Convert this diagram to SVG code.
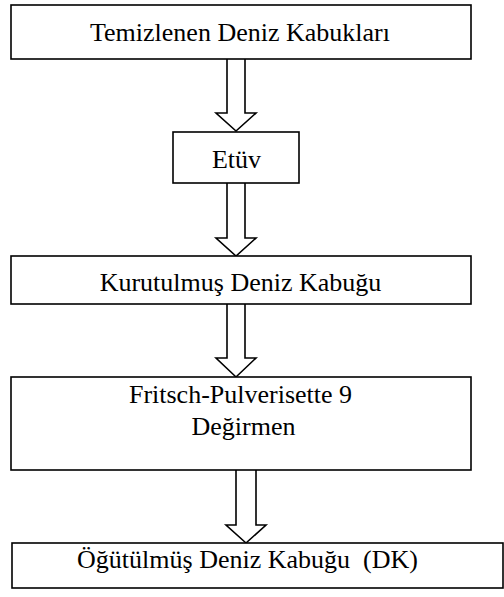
<svg xmlns="http://www.w3.org/2000/svg" width="504" height="597" viewBox="0 0 504 597">
  <style>
    .box { fill: #ffffff; stroke: #000000; stroke-width: 1.6; }
    .arrow { fill: #ffffff; stroke: #000000; stroke-width: 1.6; stroke-linejoin: miter; }
    .label { font-family: "Liberation Serif", "Times New Roman", serif; font-size: 26px; fill: #000000; text-anchor: middle; }
  </style>
  <rect width="504" height="597" fill="#ffffff"/>

  <g id="connectors">
    <path class="arrow" d="M227,59 V113 H216 L236,131 L256,113 H245 V59"/>
    <path class="arrow" d="M227,183 V238 H216 L236,256 L256,238 H245 V183"/>
    <path class="arrow" d="M227,304 V358 H216 L236,377 L256,358 H245 V304"/>
    <path class="arrow" d="M236,470 V525 H226 L246,543 L266,525 H256 V470"/>
  </g>

  <g id="node-temizlenen">
    <rect class="box" x="11" y="5" width="460" height="54"/>
    <text class="label" x="240" y="41">Temizlenen Deniz Kabukları</text>
  </g>

  <g id="node-etuv">
    <rect class="box" x="173" y="132" width="126" height="51"/>
    <text class="label" x="236.5" y="168">Etüv</text>
  </g>

  <g id="node-kurutulmus">
    <rect class="box" x="11" y="256" width="460" height="48"/>
    <text class="label" x="240.5" y="291">Kurutulmuş Deniz Kabuğu</text>
  </g>

  <g id="node-degirmen">
    <rect class="box" x="11" y="377" width="460" height="93"/>
    <text class="label" x="240.5" y="403">Fritsch-Pulverisette 9</text>
    <text class="label" x="243.5" y="435">Değirmen</text>
  </g>

  <g id="node-ogutulmus">
    <rect class="box" x="12" y="543" width="491" height="45"/>
    <text class="label" x="247.5" y="568" xml:space="preserve">Öğütülmüş Deniz Kabuğu  (DK)</text>
  </g>
</svg>
